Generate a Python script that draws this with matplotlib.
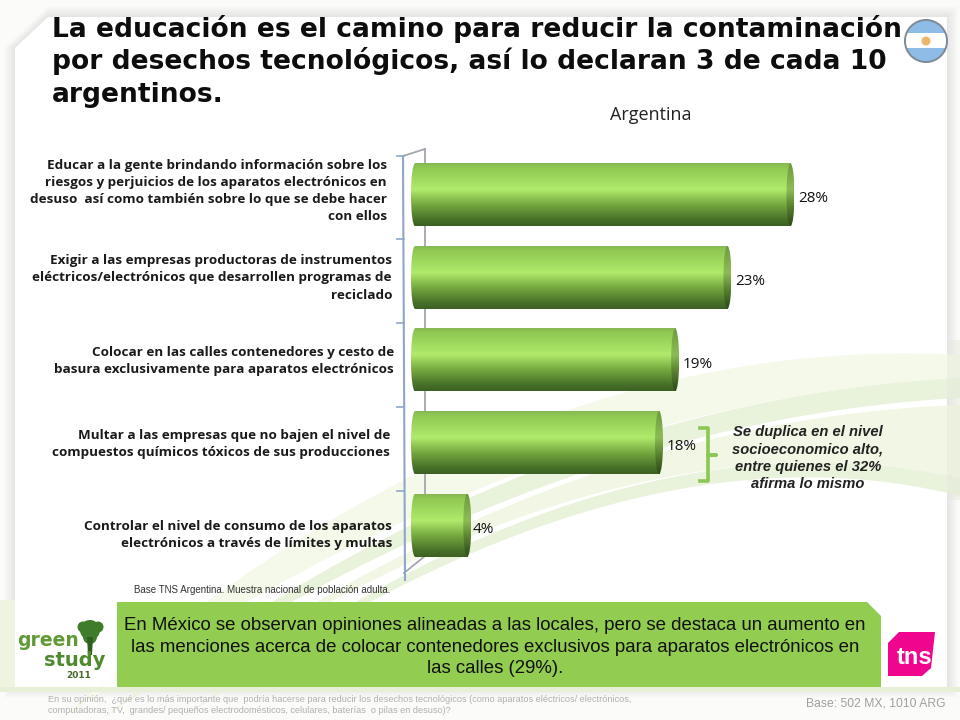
import numpy as np
import matplotlib
matplotlib.use('Agg')
import matplotlib.pyplot as plt
from matplotlib.patches import Ellipse, Polygon, Rectangle, Circle

graphWidth = 960 # units are pixels
graphHeight = 720 # units are pixels

title_lines = ['La educación es el camino para reducir la contaminación',
               'por desechos tecnológicos, así lo declaran 3 de cada 10',
               'argentinos.']

categories = ['Educar a la gente brindando información sobre los\nriesgos y perjuicios de los aparatos electrónicos en\ndesuso  así como también sobre lo que se debe hacer\ncon ellos',
              'Exigir a las empresas productoras de instrumentos\neléctricos/electrónicos que desarrollen programas de\nreciclado',
              'Colocar en las calles contenedores y cesto de\nbasura exclusivamente para aparatos electrónicos',
              'Multar a las empresas que no bajen el nivel de\ncompuestos químicos tóxicos de sus producciones',
              'Controlar el nivel de consumo de los aparatos\nelectrónicos a través de límites y multas']
# bar lengths, they round to the printed labels
bar_values = [28.0, 23.3, 19.4, 18.2, 3.9]
bar_labels = ['28%', '23%', '19%', '18%', '4%']

callout = 'Se duplica en el nivel\nsocioeconomico alto,\nentre quienes el 32%\nafirma lo mismo'
box_text = 'En México se observan opiniones alineadas a las locales, pero se destaca un aumento en\nlas menciones acerca de colocar contenedores exclusivos para aparatos electrónicos en\nlas calles (29%).'
base_note = 'Base TNS Argentina. Muestra nacional de población adulta.'
question = 'En su opinión,  ¿qué es lo más importante que  podría hacerse para reducir los desechos tecnológicos (como aparatos eléctricos/ electrónicos,\ncomputadoras, TV,  grandes/ pequeños electrodomésticos, celulares, baterías  o pilas en desuso)?'
base_right = 'Base: 502 MX, 1010 ARG'


def bezier(p0, p1, p2, n=120):
    t = np.linspace(0, 1, n)[:, None]
    return (1 - t)**2 * np.array(p0) + 2 * t * (1 - t) * np.array(p1) + t**2 * np.array(p2)


def band(axes, upper, lower, col, zorder=1):
    pts = np.vstack([bezier(*upper), bezier(*lower)[::-1]])
    axes.add_patch(Polygon(pts, closed=True, fc=col, ec='none', zorder=zorder))


f = plt.figure(figsize=(graphWidth/100.0, graphHeight/100.0), dpi=100)

# background layer in pixel coordinates
bg = f.add_axes([0, 0, 1, 1])
bg.set_xlim(0, graphWidth)
bg.set_ylim(graphHeight, 0)
bg.axis('off')

bg.add_patch(Rectangle((0, 0), 960, 720, fc='#fbfbfa', ec='none', zorder=0))
card = [(15, 48), (48, 17), (947, 17), (947, 687), (15, 687)]
cardPts = np.array(card, dtype=float)

# soft shadow round the card
for i in range(12):
    grown = cardPts + np.array([[-i, 0], [0, -i], [i, -i], [i, i], [-i, i]])
    bg.add_patch(Polygon(grown, closed=True, fc='#000000', alpha=0.007, ec='none', zorder=0.1))
bg.add_patch(Polygon(card, closed=True, fc='white', ec='none', zorder=0.2))

# pale swooshes behind the chart
band(bg, ((60, 720), (500, 330), (960, 355)), ((60, 720), (520, 400), (960, 378)), '#f4f9ea')
band(bg, ((100, 720), (520, 400), (960, 378)), ((100, 720), (540, 420), (960, 398)), '#e9f2da')
band(bg, ((140, 720), (540, 420), (960, 405)), ((140, 720), (600, 400), (960, 478)), '#f1f7e4')
band(bg, ((180, 720), (600, 400), (960, 478)), ((180, 720), (620, 410), (960, 496)), '#e9f2da')
bg.add_patch(Rectangle((0, 600), 15, 90, fc='#eef4e0', ec='none', zorder=1))
bg.add_patch(Rectangle((0, 687), 960, 5, fc='#e7efd6', ec='none', zorder=1))
bg.add_patch(Rectangle((947, 340), 13, 160, fc='#e4e8da', ec='none', alpha=0.45, zorder=1))
bg.add_patch(Rectangle((15, 600), 102, 87, fc='white', ec='none', alpha=0.85, zorder=1.5))

# 3D frame of the axis
axis_front = '#8ea6cc'
axis_back = '#a3a6ad'
bg.plot([425, 425, 404], [149, 556, 573], color=axis_back, lw=1.3, zorder=2)
bg.plot([403, 425], [156, 149], color=axis_back, lw=1.3, zorder=2)
bg.plot([403, 405], [156, 580], color=axis_front, lw=1.5, zorder=2)
for ty in [156, 239, 323, 407, 491]:
    bg.plot([397, 404], [ty, ty], color=axis_front, lw=1.2, zorder=2)

# the bars, on their own axes
pxPerUnit = 13.41
ax = f.add_axes([411/960.0, 1 - 566.5/720.0, 400/960.0, 413/720.0])
ax.patch.set_alpha(0)
xLimits = (-4/pxPerUnit, 396/pxPerUnit)
yLimits = (4.5, -0.5)
ax.set_xlim(*xLimits)
ax.set_ylim(*yLimits)
ax.axis('off')

y_pos = np.arange(len(bar_values))
bars = ax.barh(y_pos, bar_values, height=0.76, color='#7fb23f', linewidth=0)

# cylinder shading, top to bottom
stops = [0.0, 0.06, 0.42, 0.66, 0.9, 1.0]
stopColours = np.array([[0.53, 0.72, 0.33], [0.56, 0.78, 0.32], [0.69, 0.92, 0.42],
                        [0.46, 0.66, 0.25], [0.28, 0.44, 0.16], [0.24, 0.38, 0.14]])
s = np.linspace(0, 1, 128)
ramp = np.stack([np.interp(s, stops, stopColours[:, c]) for c in range(3)], axis=1)[:, None, :]
capRamp = ramp * 0.8

cap_w = 4 / pxPerUnit
for b in bars:
    x0, y0, w, h = b.get_x(), b.get_y(), b.get_width(), b.get_height()
    b.set_visible(False)
    ax.imshow(ramp, extent=[x0, x0 + w, y0 + h, y0], aspect='auto', zorder=3, interpolation='bilinear')
    left = ax.imshow(ramp, extent=[x0 - cap_w, x0 + cap_w, y0 + h, y0], aspect='auto', zorder=3, interpolation='bilinear')
    left.set_clip_path(Ellipse((x0, y0 + h/2), 2*cap_w, h, transform=ax.transData))
    right = ax.imshow(capRamp, extent=[x0 + w - cap_w, x0 + w + cap_w, y0 + h, y0], aspect='auto', zorder=4, interpolation='bilinear')
    right.set_clip_path(Ellipse((x0 + w, y0 + h/2), 2*cap_w, h, transform=ax.transData))

ax.set_xlim(*xLimits)
ax.set_ylim(*yLimits)

bar_font = ['Open Sans', 'DejaVu Sans']
label_dx = [8, 8, 8, 8, 5]
for i, (v, lab) in enumerate(zip(bar_values, bar_labels)):
    ax.annotate(lab, (v, i), xytext=(label_dx[i], -4), textcoords='offset pixels', va='center', ha='left',
                fontsize=11, color='#111111', family=bar_font, zorder=6)

# category labels, right aligned against the axis
label_right = [387, 392, 394, 390, 392]
label_y = [191, 278, 361, 444, 535]
for i, txt in enumerate(categories):
    bg.text(label_right[i], label_y[i], txt, ha='right', va='center', fontsize=9.7, fontweight='bold',
            family='Open Sans', color='#1a1a1a', linespacing=1.42, zorder=5)

# title
title_y = [29, 61, 95]
for line, y in zip(title_lines, title_y):
    bg.text(52, y, line, ha='left', va='center', fontsize=19.1, fontweight='bold', family='DejaVu Sans', color='#0d0d0d', zorder=5)

bg.text(651, 115, 'Argentina', ha='center', va='center', fontsize=13, family='Open Sans', color='#222222', zorder=5)

# flag
bg.add_patch(Circle((926, 41), 22, fc='#7f8a99', ec='none', zorder=6))
bg.add_patch(Circle((926, 41), 20, fc='#8fbce6', ec='none', zorder=6))
stripe = Rectangle((900, 33), 52, 15, fc='white', ec='none', zorder=6)
bg.add_patch(stripe)
stripe.set_clip_path(Circle((926, 41), 20, transform=bg.transData))
bg.add_patch(Circle((926, 41), 4.5, fc='#eeb66b', ec='none', zorder=6))

# callout with brace
brace = '#8cc654'
bg.plot([700, 708, 708, 716, 708, 708, 700], [428, 428, 455, 455, 455, 481, 481], color=brace, lw=2.6,
        solid_joinstyle='round', zorder=5)
bg.text(808, 458, callout, ha='center', va='center', fontsize=10.6, fontweight='bold', style='italic',
        family='Liberation Sans', color='#222222', linespacing=1.3, zorder=5)

bg.text(134, 590, base_note, ha='left', va='center', fontsize=7, family='Liberation Sans', color='#333333', zorder=5)

# green text box with cut corner
bg.add_patch(Polygon([(117, 602), (867, 602), (881, 616), (881, 687), (117, 687)], closed=True, fc='#92cc50', ec='none', zorder=4))
bg.text(495, 647, box_text, ha='center', va='center', fontsize=13.4, family='Liberation Sans', color='#111111', linespacing=1.32, zorder=5)

# green study logo
treeGreen = '#3f7d2a'
for cx, cy, r in [(90, 630, 10), (83, 627, 5.5), (98, 627, 5.5), (90, 637, 7)]:
    bg.add_patch(Circle((cx, cy), r, fc=treeGreen, ec='none', zorder=4))
bg.add_patch(Polygon([(87, 637), (93, 637), (92, 655), (88, 655)], closed=True, fc='#2f5f1e', ec='none', zorder=4))
bg.text(48, 641, 'green', ha='center', va='center', fontsize=13.5, fontweight='bold', family='DejaVu Sans', color='#5f9a34', zorder=5)
bg.text(75, 660, 'study', ha='center', va='center', fontsize=14, fontweight='bold', family='DejaVu Sans', color='#4f8a2c', zorder=5)
bg.text(79, 675, '2011', ha='center', va='center', fontsize=6.5, fontweight='bold', family='DejaVu Sans', color='#4a6a2a', zorder=5)

# tns logo
bg.add_patch(Polygon([(899, 632), (935, 632), (931, 668), (922, 676), (888, 676), (888, 643)], closed=True, fc='#f0058f', ec='none', zorder=4))
bg.text(915, 658, 'tns', ha='center', va='center', fontsize=17, fontweight='bold', family='Liberation Sans', color='white', zorder=5)

bg.text(48, 705, question, ha='left', va='center', fontsize=6.6, family='Liberation Sans', color='#b0b0b0', linespacing=1.3, zorder=5)
bg.text(945, 704, base_right, ha='right', va='center', fontsize=8.7, family='Liberation Sans', color='#a0a0a0', zorder=5)

f.savefig('out.png', dpi=100)
